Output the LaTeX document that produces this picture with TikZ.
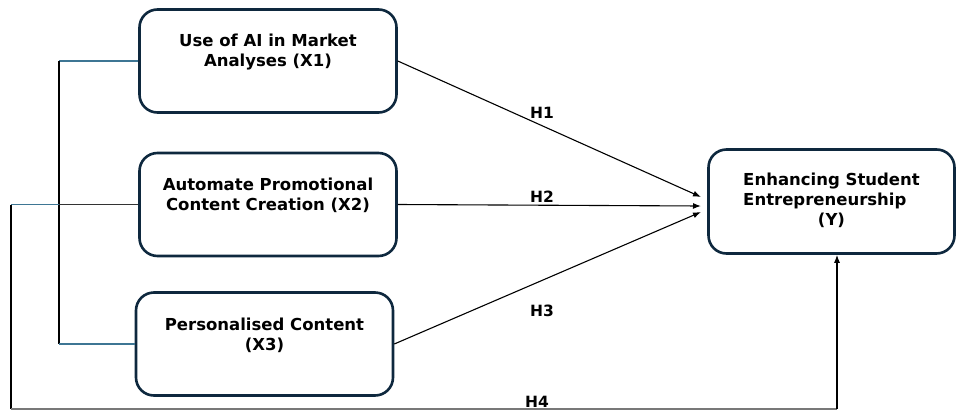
\documentclass[tikz,border=0pt]{standalone}
\usepackage{fontspec}
\setmainfont{DejaVu Sans}
\usetikzlibrary{arrows.meta}
\definecolor{boxline}{RGB}{14,40,62}
\definecolor{tealline}{RGB}{62,118,148}
\definecolor{greyline}{RGB}{120,120,120}
\tikzset{
  varbox/.style={draw=boxline,line width=2.6pt,rounded corners=18pt,minimum width=257pt,minimum height=103pt,inner sep=0pt},
  vartext/.style={font=\bfseries\fontsize{16.5}{20}\selectfont,align=center,inner sep=0pt},
  hyp/.style={font=\bfseries\fontsize{15.5}{18}\selectfont,inner sep=0pt},
  link/.style={line width=1.1pt,black},
  tlink/.style={line width=1.1pt,tealline},
  arr/.style={line width=1.1pt,-{Latex[length=8pt,width=6pt]}}
}
\begin{document}
\begin{tikzpicture}[x=1pt,y=-1pt]
  \useasboundingbox (0,0) rectangle (959,410);
  % independent variables
  \node[varbox] (x1) at (268,61) {};
  \node[vartext] (x1t) at ([yshift=9pt]x1.center) {Use of AI in Market\\Analyses (X1)};
  \node[varbox] (x2) at (268,204.5) {};
  \node[vartext] (x2t) at ([yshift=9pt]x2.center) {Automate Promotional\\Content Creation (X2)};
  \node[varbox] (x3) at (264.5,344) {};
  \node[vartext] (x3t) at ([yshift=9pt]x3.center) {Personalised Content\\(X3)};
  % dependent variable
  \node[varbox,minimum width=246pt,minimum height=104pt] (y) at (831.5,201.5) {};
  \node[vartext] (yt) at (y.center) {\begin{tabular}{@{}l@{}}Enhancing Student\\Entrepreneurship\\\multicolumn{1}{@{}c@{}}{(Y)}\end{tabular}};
  % arrow tips at Y
  \coordinate (t1) at (701,197);
  \coordinate (t2) at (701,206);
  \coordinate (t3) at (701,212);
  \draw[arr] (x1.east) -- (t1);
  \draw[arr] (x2.east) -- (t2);
  \draw[arr] (x3.east) -- (t3);
  % left bracket
  \coordinate (b1) at (59,61);
  \coordinate (b2) at (59,204.5);
  \coordinate (b3) at (59,344);
  \coordinate (o2) at (11,204.5);
  \coordinate (o4) at (11,409);
  \coordinate (y4) at (837,409);
  \draw[tlink] (x1.west) -- (b1);
  \draw[link] (b1) -- (b3);
  \draw[tlink] (b3) -- (x3.west);
  \draw[link,black!80] (x2.west) -- (b2);
  \draw[tlink] (b2) -- (o2);
  \draw[link] (o2) -- (o4);
  \draw[line width=1.5pt,greyline] (o4) -- (y4);
  \draw[arr] (y4) -- (y4 |- y.south);
  % hypotheses
  \node[hyp] (h1) at (542,113) {H1};
  \node[hyp] (h2) at (542,197) {H2};
  \node[hyp] (h3) at (542,311) {H3};
  \node[hyp] (h4) at (537,402) {H4};
\end{tikzpicture}
\end{document}
